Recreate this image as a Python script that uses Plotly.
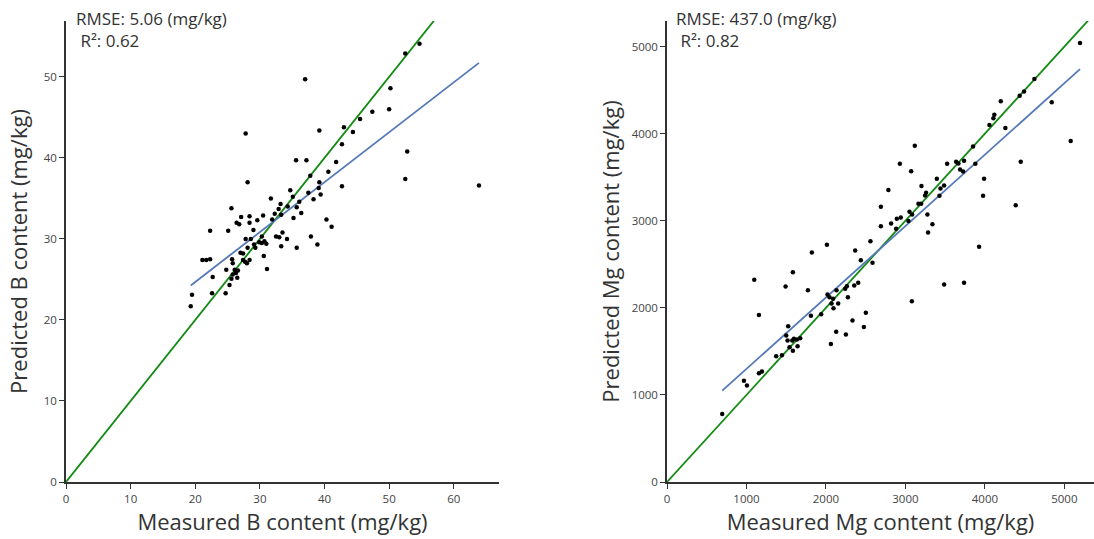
import plotly.graph_objects as go

# ---------------- data ----------------
b_measured = [28.1, 40.6, 39.2, 34.7, 39.1, 37.5, 39.4, 31.7, 35.1, 38.3, 36.1, 33.2, 34.3, 25.6, 32.9, 35.7,
              36.4, 32.3, 33.3, 27.1, 28.4, 30.5, 35.2, 29.6, 31.9, 26.4, 26.8, 28.4, 40.3, 41.1, 22.3, 25.1,
              29.0, 33.5, 32.5, 33.0, 27.8, 28.6, 30.3, 34.2, 37.9, 29.9, 30.3, 30.7, 31.0, 29.1, 38.9, 33.3,
              35.7, 28.1, 29.3, 27.0, 27.4, 30.6, 21.1, 21.7, 22.3, 25.7, 27.4, 28.4, 25.8, 27.7, 28.0, 24.8,
              26.1, 31.1, 26.6, 26.3, 25.8, 22.7, 26.5, 25.6, 25.3, 22.6, 24.7, 19.5, 19.3,
              54.7, 52.5, 37.0, 50.2, 50.0, 47.4, 45.5, 27.8, 39.2, 43.0, 44.4, 42.7, 35.6, 37.2, 41.8, 52.8,
              37.8, 52.5, 42.7, 63.9]
b_predicted = [37.0, 38.3, 37.0, 36.0, 36.3, 35.7, 35.5, 35.0, 35.2, 34.9, 34.6, 34.3, 34.0, 33.8, 33.7, 33.9,
               33.2, 33.1, 33.0, 32.7, 32.8, 32.9, 32.6, 32.3, 32.4, 32.0, 31.8, 32.0, 32.4, 31.5, 31.0, 31.0,
               31.1, 30.8, 30.3, 30.2, 30.0, 30.0, 30.3, 30.0, 30.3, 29.6, 29.5, 29.7, 29.4, 29.3, 29.3, 29.1,
               28.9, 28.9, 28.9, 28.3, 28.2, 27.9, 27.4, 27.4, 27.5, 27.5, 27.4, 27.4, 27.0, 27.2, 27.0, 26.2,
               26.2, 26.3, 26.1, 25.8, 25.6, 25.3, 25.2, 25.1, 24.3, 23.3, 23.3, 23.1, 21.7,
               54.1, 52.9, 49.7, 48.6, 46.0, 45.7, 44.8, 43.0, 43.4, 43.8, 43.2, 41.7, 39.7, 39.7, 39.5, 40.8,
               37.8, 37.4, 36.5, 36.6]
b_fit_slope = 0.616
b_fit_intercept = 12.37
b_rmse_text = "RMSE: 5.06 (mg/kg)"
b_r2_text = "R²: 0.62"

mg_measured = [2691, 2691, 2820, 2892, 2883, 2560, 2012, 2368, 1823, 2439, 2586, 1584, 1098, 1492, 1773, 2406,
               2356, 2263, 2242, 2133, 2020, 2045, 2276, 2091, 2070, 2154, 2095, 1940, 1811, 1157, 2502, 2334,
               1525, 2477, 1500, 2129, 2251, 1517, 1597, 1576, 1676, 1635, 2062, 1643, 1542, 1584, 1374, 1446,
               1157, 1194, 968, 1006, 695,
               5197, 4623, 4493, 4438, 4200, 4841, 4119, 4107, 4057, 4258, 3851, 3118, 5080, 2930, 3525, 3638,
               3667, 3738, 3688, 3726, 3880, 3072, 4451, 3395, 3990, 3202, 3487, 3441, 2786, 3260, 3248, 3428,
               3977, 3164, 3198, 4388, 3051, 3084, 3277, 2942, 3038, 3340, 3285, 3927, 3487, 3738, 3081]
mg_predicted = [3161, 2938, 2969, 3023, 2908, 2766, 2724, 2659, 2636, 2547, 2517, 2409, 2322, 2245, 2202, 2287,
                2256, 2248, 2218, 2202, 2153, 2122, 2122, 2103, 2049, 2049, 1995, 1926, 1908, 1919, 1943, 1854,
                1789, 1781, 1682, 1724, 1693, 1624, 1644, 1624, 1651, 1636, 1586, 1559, 1547, 1506, 1444, 1455,
                1248, 1268, 1164, 1107, 781,
                5041, 4628, 4483, 4437, 4371, 4360, 4218, 4176, 4099, 4065, 3854, 3862, 3915, 3655, 3655, 3678,
                3659, 3690, 3590, 3567, 3655, 3570, 3678, 3483, 3483, 3398, 3406, 3371, 3352, 3322, 3291, 3287,
                3287, 3195, 3195, 3179, 3103, 3072, 3072, 3038, 2996, 2961, 2866, 2701, 2268, 2287, 2076]
mg_fit_slope = 0.820
mg_fit_intercept = 479.0
mg_rmse_text = "RMSE: 437.0 (mg/kg)"
mg_r2_text = "R²: 0.82"

b_xticks = [0, 10, 20, 30, 40, 50, 60]
b_yticks = [0, 10, 20, 30, 40, 50]
mg_xticks = [0, 1000, 2000, 3000, 4000, 5000]
mg_yticks = [0, 1000, 2000, 3000, 4000, 5000]

# ---------------- figure ----------------
W, H = 1094, 539
ML, MR, MT, MB = 66, 0, 21, 57
PW, PH = W - ML - MR, H - MT - MB

FONT = "Open Sans"
GREEN = "#138a13"
BLUE = "#5579b8"
AX = "#333333"

fig = go.Figure()

def add_panel(xm, yp, slope, intercept, xmax_line, xa, ya):
    fig.add_trace(go.Scatter(x=[0, xmax_line], y=[0, xmax_line], mode="lines",
                             line=dict(color=GREEN, width=1.8), xaxis=xa, yaxis=ya,
                             showlegend=False, hoverinfo="skip"))
    x0, x1 = min(xm), max(xm)
    fig.add_trace(go.Scatter(x=[x0, x1], y=[slope * x0 + intercept, slope * x1 + intercept],
                             mode="lines", line=dict(color=BLUE, width=1.8), xaxis=xa, yaxis=ya,
                             showlegend=False, hoverinfo="skip"))
    fig.add_trace(go.Scatter(x=xm, y=yp, mode="markers",
                             marker=dict(color="black", size=4.5, line=dict(width=0)),
                             xaxis=xa, yaxis=ya, showlegend=False))

add_panel(b_measured, b_predicted, b_fit_slope, b_fit_intercept, 80, "x", "y")
add_panel(mg_measured, mg_predicted, mg_fit_slope, mg_fit_intercept, 6000, "x2", "y2")

def px_x(p):
    return (p - ML) / PW

def px_y(p):
    return (H - MB - p) / PH

axis_common = dict(showline=True, linecolor=AX, linewidth=1.5, ticks="outside", ticklen=5,
                   tickwidth=1.2, tickcolor=AX, showgrid=False, zeroline=False,
                   tickfont=dict(family=FONT, size=11.5, color="#444444"), automargin=False)

TF = dict(family=FONT, size=22, color=AX)

fig.update_layout(
    width=W, height=H,
    margin=dict(l=ML, r=MR, t=MT, b=MB),
    paper_bgcolor="white", plot_bgcolor="white",
    xaxis=dict(domain=[0, px_x(499)], range=[0, 67], tickvals=b_xticks, anchor="y",
               title=dict(text="Measured B content (mg/kg)", font=TF, standoff=3),
               **axis_common),
    yaxis=dict(domain=[0, 1], range=[0, 56.9], tickvals=b_yticks, anchor="x",
               title=dict(text="Predicted B content (mg/kg)", font=TF, standoff=10),
               **axis_common),
    xaxis2=dict(domain=[px_x(667), 1], range=[0, 5373], tickvals=mg_xticks, anchor="y2",
                title=dict(text="Measured Mg content (mg/kg)", font=TF, standoff=3),
                **axis_common),
    yaxis2=dict(domain=[0, 1], range=[0, 5294], tickvals=mg_yticks, anchor="x2",
                title=dict(text="Predicted Mg content (mg/kg)", font=TF, standoff=6),
                **axis_common),
)

def add_stats(rmse, r2, xp):
    fig.add_annotation(text=rmse + "<br>\u00a0" + r2, xref="paper", yref="paper",
                       x=px_x(xp), y=px_y(6), xanchor="left", yanchor="top", align="left",
                       showarrow=False, borderpad=0,
                       font=dict(family=FONT, size=17, color=AX))

add_stats(b_rmse_text, b_r2_text, 75)
add_stats(mg_rmse_text, mg_r2_text, 675)

fig.write_html("out.html")
